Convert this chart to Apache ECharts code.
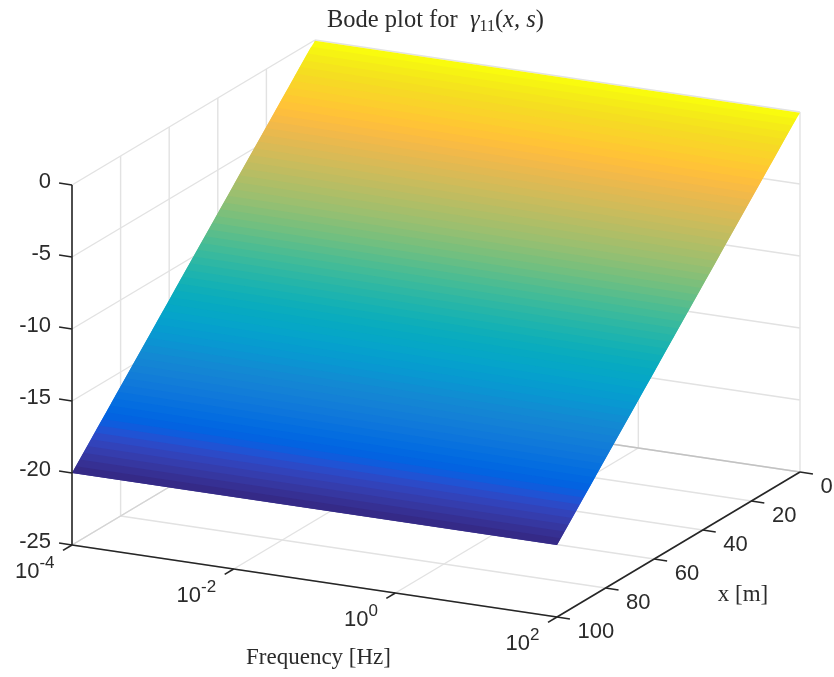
<!DOCTYPE html>
<html>
<head>
<meta charset="utf-8">
<script src="https://cdn.jsdelivr.net/npm/echarts@6/dist/echarts.min.js"></script>
<style>html,body{margin:0;padding:0;background:#fff}#c{width:834px;height:677px}</style>
</head>
<body>
<div id="c"></div>
<script>
// ---- values ----
var freqTicks = [-4, -2, 0, 2];            // log10 of frequency in Hz
var xTicks = [0, 20, 40, 60, 80, 100];     // x in m
var zTicks = [0, -5, -10, -15, -20, -25];  // magnitude
var xStations = [0,1.56,3.13,4.69,6.25,7.81,9.38,10.94,12.5,14.06,15.63,17.19,18.75,20.31,21.88,23.44,25,26.56,28.13,29.69,31.25,32.81,34.38,35.94,37.5,39.06,40.63,42.19,43.75,45.31,46.88,48.44,50,51.56,53.13,54.69,56.25,57.81,59.38,60.94,62.5,64.06,65.63,67.19,68.75,70.31,71.88,73.44,75,76.56,78.13,79.69,81.25,82.81,84.38,85.94,87.5,89.06,90.63,92.19,93.75,95.31,96.88,98.44,100];
var surfaceZ = [-0.05,-0.31,-0.63,-0.94,-1.25,-1.56,-1.88,-2.19,-2.5,-2.81,-3.13,-3.44,-3.75,-4.06,-4.38,-4.69,-5,-5.31,-5.63,-5.94,-6.25,-6.56,-6.88,-7.19,-7.5,-7.81,-8.13,-8.44,-8.75,-9.06,-9.38,-9.69,-10,-10.31,-10.63,-10.94,-11.25,-11.56,-11.88,-12.19,-12.5,-12.81,-13.13,-13.44,-13.75,-14.06,-14.38,-14.69,-15,-15.31,-15.63,-15.94,-16.25,-16.56,-16.88,-17.19,-17.5,-17.81,-18.13,-18.44,-18.75,-19.06,-19.38,-19.69,-20];
var parula = [[.2081,.1663,.5292],[.2116,.1898,.5777],[.2123,.2138,.627],[.2081,.2386,.6771],[.1959,.2645,.7279],[.1707,.2919,.7792],[.1253,.3242,.8303],[.0591,.3598,.8683],[.0117,.3875,.882],[.006,.4086,.8828],[.0165,.4266,.8786],[.0329,.443,.872],[.0498,.4586,.8641],[.0629,.4737,.8554],[.0723,.4887,.8467],[.0779,.504,.8384],[.0793,.52,.8312],[.0749,.5375,.8263],[.0641,.557,.824],[.0488,.5772,.8228],[.0343,.5966,.8199],[.0265,.6137,.8135],[.0239,.6287,.8038],[.0231,.6418,.7913],[.0228,.6535,.7768],[.0267,.6642,.7607],[.0384,.6743,.7436],[.059,.6838,.7254],[.0843,.6928,.7062],[.1133,.7015,.6859],[.1453,.7098,.6646],[.1801,.7177,.6424],[.2178,.725,.6193],[.2586,.7317,.5954],[.3022,.7376,.5712],[.3482,.7424,.5473],[.3953,.7459,.5244],[.442,.7481,.5033],[.4871,.7491,.484],[.53,.7491,.4661],[.5709,.7485,.4494],[.6099,.7473,.4337],[.6473,.7456,.4188],[.6834,.7435,.4044],[.7184,.7411,.3905],[.7525,.7384,.3768],[.7858,.7356,.3633],[.8185,.7327,.3498],[.8507,.7299,.336],[.8824,.7274,.3217],[.9139,.7258,.3063],[.945,.7261,.2886],[.9739,.7314,.2666],[.9938,.7455,.2403],[.999,.7653,.2164],[.9955,.7861,.1967],[.988,.8066,.1794],[.9789,.8271,.1633],[.9697,.8481,.1475],[.9626,.8705,.1309],[.9589,.8949,.1132],[.9598,.9218,.0948],[.9661,.9514,.0755],[.9763,.9831,.0538]];

// ---- axis box limits ----
var fMin = -4, fMax = 2, xMin = 0, xMax = 100, zMin = -25, zMax = 0;

// orthographic view of the 3-D box onto a hidden 2-D value-axis plane
function view(f, x, z) {
  return [
    72 + (f - fMin) / (fMax - fMin) * 485 + (xMax - x) / (xMax - xMin) * 243,
    545 + (f - fMin) / (fMax - fMin) * 72 - (xMax - x) / (xMax - xMin) * 145 - (z - zMin) / (zMax - zMin) * 360
  ];
}
function coordOf(api, f, x, z) { return api.coord(view(f, x, z)); }

function colorOf(i) {
  var c = parula[parula.length - 1 - i];
  return 'rgb(' + Math.round(c[0] * 255) + ',' + Math.round(c[1] * 255) + ',' + Math.round(c[2] * 255) + ')';
}

// grid lines on the two back walls and the floor
var gridSegs = [];
xTicks.forEach(function (x) {
  gridSegs.push([fMin, x, zMin, fMin, x, zMax]);
  gridSegs.push([fMin, x, zMin, fMax, x, zMin]);
});
freqTicks.forEach(function (f) {
  gridSegs.push([f, xMin, zMin, f, xMin, zMax]);
  gridSegs.push([f, xMin, zMin, f, xMax, zMin]);
});
zTicks.slice(0, -1).forEach(function (z) {
  gridSegs.push([fMin, xMin, z, fMin, xMax, z]);
  gridSegs.push([fMin, xMin, z, fMax, xMin, z]);
});
var leftFloorEdge = [[fMin, xMin, zMin, fMin, xMax, zMin]];
var backFloorEdge = [[fMin, xMin, zMin, fMax, xMin, zMin]];

// surface strips: each one reaches under the next so that no seam shows
var strips = [];
for (var i = 0; i + 1 < xStations.length; i++) {
  var j = Math.min(i + 2, xStations.length - 1);
  strips.push([xStations[i], surfaceZ[i], xStations[j], surfaceZ[j]]);
}

// axes and ticks (ticks run along a neighbouring box direction)
var zTickLen = 0.16, fTickLen = 0.16, xTickLen = 3.7;
var axisSegs = [
  [fMin, xMax, zMin, fMin, xMax, zMax],
  [fMin, xMax, zMin, fMax, xMax, zMin],
  [fMax, xMin, zMin, fMax, xMax, zMin]
];
zTicks.forEach(function (z) { axisSegs.push([fMin, xMax, z, fMin - zTickLen, xMax, z]); });
freqTicks.forEach(function (f) { axisSegs.push([f, xMax, zMin, f, xMax + xTickLen, zMin]); });
xTicks.forEach(function (x) { axisSegs.push([fMax, x, zMin, fMax + fTickLen, x, zMin]); });

// text
var SANS = '"Liberation Sans", Arial, sans-serif';
var SERIF = '"Liberation Serif", serif';
var INK = '#2b2b2b';
var labels = [];
zTicks.forEach(function (z) {
  labels.push({ at: [fMin, xMax, z], dx: -21, dy: -3, text: String(z), align: 'right' });
});
xTicks.forEach(function (x) {
  labels.push({ at: [fMax, x, zMin], dx: 20.5, dy: 14.5, text: String(x), align: 'left' });
});
freqTicks.forEach(function (f) {
  labels.push({ at: [f, xMax, zMin], dx: -17.5, dy: 24, text: '{b|10}{s|' + f + '}', align: 'right' });
});
labels.push({ at: [fMax, 50, zMin], dx: 64.5, dy: 50.5, text: 'x [m]', align: 'center', serif: true });
labels.push({ at: [-1, xMax, zMin], dx: 4, dy: 77, text: 'Frequency [Hz]', align: 'center', serif: true });

function lineSeries(segs, color, width) {
  return {
    type: 'custom', coordinateSystem: 'cartesian2d', silent: true, clip: false,
    data: segs,
    renderItem: function (p, api) {
      var a = coordOf(api, api.value(0), api.value(1), api.value(2));
      var b = coordOf(api, api.value(3), api.value(4), api.value(5));
      return { type: 'line', shape: { x1: a[0], y1: a[1], x2: b[0], y2: b[1] }, style: { stroke: color, lineWidth: width, fill: null } };
    }
  };
}

var chart = echarts.init(document.getElementById('c'), null, { renderer: 'canvas' });
chart.setOption({
  animation: false,
  backgroundColor: '#fff',
  tooltip: { show: false },
  title: {
    left: 327, top: 8, padding: 0,
    text: '{r|Bode plot for  }{m|γ}{u|11}{r|(}{m|x, s}{r|)}',
    textStyle: {
      fontWeight: 'normal',
      rich: {
        r: { fontFamily: SERIF, fontSize: 24.5, fontWeight: 'normal', color: INK, lineHeight: 27, verticalAlign: 'top' },
        m: { fontFamily: SERIF, fontSize: 24.5, fontWeight: 'normal', fontStyle: 'italic', color: INK, lineHeight: 27, verticalAlign: 'top' },
        u: { fontFamily: SERIF, fontSize: 16, fontWeight: 'normal', color: INK, verticalAlign: 'bottom' }
      }
    }
  },
  grid: { left: 0, right: 0, top: 0, bottom: 0 },
  xAxis: { type: 'value', min: 0, max: 834, show: false },
  yAxis: { type: 'value', min: 0, max: 677, inverse: true, show: false },
  series: [
    lineSeries(gridSegs, '#e2e2e2', 1.4),
    lineSeries(leftFloorEdge, '#d4d4d4', 1.4),
    lineSeries(backFloorEdge, '#c2c2c2', 1.4),
    {
      type: 'custom', coordinateSystem: 'cartesian2d', silent: true, clip: false,
      data: strips,
      renderItem: function (p, api) {
        var x0 = api.value(0), z0 = api.value(1), x1 = api.value(2), z1 = api.value(3);
        return {
          type: 'polygon',
          shape: { points: [coordOf(api, fMin, x0, z0), coordOf(api, fMax, x0, z0), coordOf(api, fMax, x1, z1), coordOf(api, fMin, x1, z1)] },
          style: { fill: colorOf(p.dataIndex) }
        };
      }
    },
    lineSeries(axisSegs, '#262626', 1.6),
    {
      type: 'custom', coordinateSystem: 'cartesian2d', silent: true, clip: false,
      data: labels.map(function (l) { return l.at; }),
      renderItem: function (p, api) {
        var l = labels[p.dataIndex];
        var c = coordOf(api, api.value(0), api.value(1), api.value(2));
        return {
          type: 'text',
          style: {
            x: c[0] + l.dx, y: c[1] + l.dy, text: l.text, align: l.align, verticalAlign: 'middle',
            fill: INK, fontFamily: l.serif ? SERIF : SANS, fontSize: l.serif ? 23 : 22,
            rich: {
              b: { fontFamily: SANS, fontSize: 22, fill: INK, lineHeight: 28, verticalAlign: 'bottom' },
              s: { fontFamily: SANS, fontSize: 17, fill: INK, verticalAlign: 'top' }
            }
          }
        };
      }
    }
  ]
});
</script>
</body>
</html>
